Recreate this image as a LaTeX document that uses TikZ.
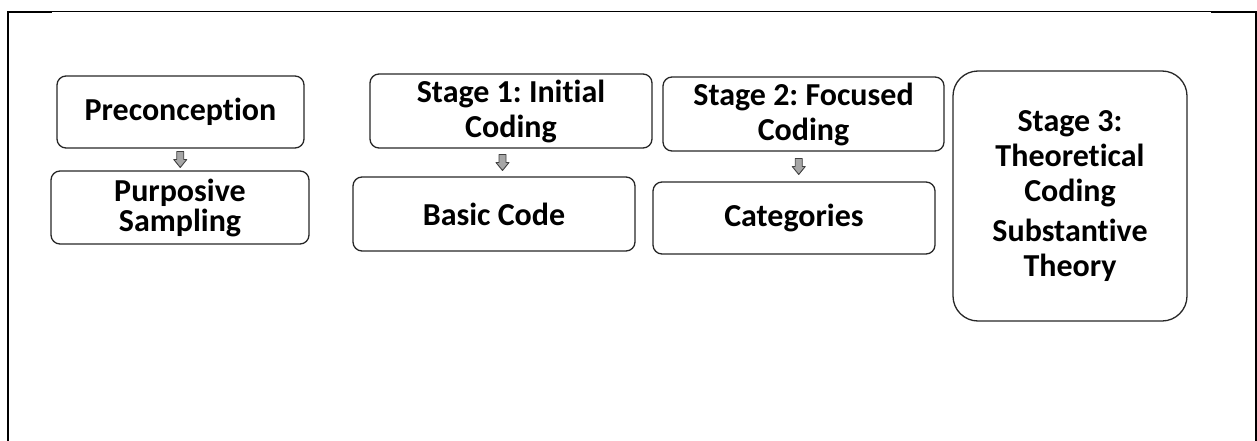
\documentclass[tikz,border=0pt]{standalone}
\usepackage{fontspec}
\setmainfont[Ligatures={NoCommon}]{Carlito}
\frenchspacing
\tikzset{
  box/.style={draw=black!85, line width=1.3pt, rounded corners=9pt, align=center,
    inner sep=2pt, font=\bfseries\fontsize{32}{35}\selectfont},
  bigbox/.style={box, rounded corners=25pt},
  blockarrow/.style={draw=black!75, fill=black!35, line width=0.9pt, line join=round},
  downblock/.pic={\draw[blockarrow] (-3.5,-8) -- (3.5,-8) -- (3.5,0) -- (6.5,0)
      -- (0,8) -- (-6.5,0) -- (-3.5,0) -- cycle;},
  frame/.style={line width=2.4pt},
  thinframe/.style={line width=1pt}
}
\begin{document}
\begin{tikzpicture}[x=1pt,y=-1pt]
\useasboundingbox (0,0) rectangle (1257,441);
% outer frame (open at the bottom)
\draw[frame] (8,441) -- (8,12) -- (52,12);
\draw[thinframe] (52,12) -- (1211,12);
\draw[frame] (1211,12) -- (1256,12) -- (1256,441);
% column 1
\node[box, minimum width=247pt, minimum height=72pt] (pre) at (180.5,112) {Preconception};
\node[box, minimum width=258pt, minimum height=73pt,
  font=\bfseries\fontsize{32}{30}\selectfont] (purp) at (180,207.5) {Purposive\\Sampling};
% column 2
\node[box, minimum width=282pt, minimum height=74pt] (s1) at (511,111) {Stage 1: Initial\\Coding};
\node[box, minimum width=282pt, minimum height=74pt] (basic) at (494,214) {Basic Code};
% column 3
\node[box, minimum width=281pt, minimum height=74pt] (s2) at (803.5,114) {Stage 2: Focused\\Coding};
\node[box, minimum width=282pt, minimum height=72pt] (cat) at (794,218) {Categories};
% column 4
\node[bigbox, minimum width=234pt, minimum height=250pt] (s3) at (1070,196)
  {Stage 3:\\Theoretical\\Coding\\[5pt]Substantive\\Theory};
% block arrows between the stacked boxes
\path (pre.south) -- (purp.north) pic[pos=0.5]{downblock};
\path (s1.south) -- (basic.north) pic[pos=0.5]{downblock};
\path (s2.south) -- (cat.north) pic[pos=0.5]{downblock};
\end{tikzpicture}
\end{document}
